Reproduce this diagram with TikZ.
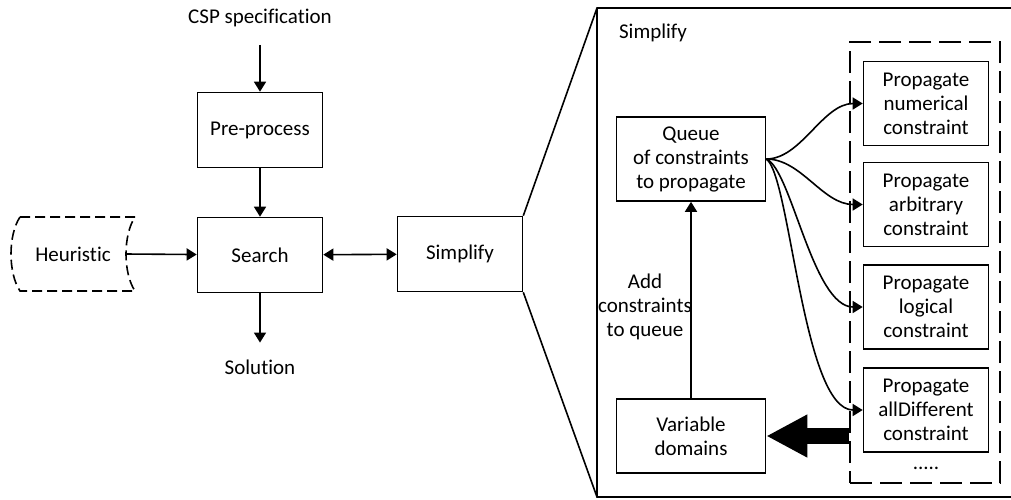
\documentclass[tikz,border=0pt]{standalone}
\usepackage{fontspec}
\setmainfont{Carlito}[RawFeature={-liga}]
\usetikzlibrary{arrows.meta}
\tikzset{
  box/.style={draw,line width=0.8pt,minimum width=62.5pt,minimum height=37.5pt,align=center,inner sep=2pt},
  propbox/.style={box,minimum height=42pt},
  widebox/.style={box,minimum width=74.5pt},
  dashbox/.style={draw,line width=0.8pt,dash pattern=on 11pt off 4pt,minimum width=75pt,minimum height=220.5pt},
  arr/.style={-{Triangle[length=5pt,width=6pt]},line width=0.8pt},
  bigarr/.style={-{Triangle[length=20.5pt,width=20pt]},line width=8pt}
}
\begin{document}
\begin{tikzpicture}[x=0.5pt,y=-0.5pt,font=\fontsize{10.5}{12}\selectfont]
\useasboundingbox (0,0) rectangle (1011,499);
\node (csp) at (260,18) {CSP specification};
\node[box] (pre) at (260,130) {Pre-process};
\node[box] (search) at (260,255) {Search};
\node (sol) at (260,367) {Solution};
\node[box] (simp) at (460,254) {Simplify};
\node (heur) at (73,254) {Heuristic};
\coordinate (heurE) at (126,254);
\draw[line width=0.8pt,dash pattern=on 5pt off 2.5pt] (20,217) -- (135,217)
  .. controls (123,235) and (123,273) .. (135,291) -- (20,291)
  .. controls (8,273) and (8,235) .. (20,217) -- cycle;
\draw[arr,shorten <=5.5pt] (csp) -- (pre);
\draw[arr] (pre) -- (search);
\draw[arr,shorten >=5pt] (search) -- (sol);
\draw[arr] (heurE) -- (search);
\draw[{Triangle[length=5pt,width=6pt]}-{Triangle[length=5pt,width=6pt]},line width=0.8pt] (search) -- (simp);
% zoomed view of Simplify
\draw[line width=0.8pt] (simp.north east) -- (597,8) -- (1015,8);
\draw[line width=0.8pt] (simp.south east) -- (597,497) -- (1015,497);
\draw[line width=0.8pt] (597,8) -- (597,497);
\node[anchor=west] (simptitle) at (612,33) {Simplify};
\node[box,widebox,minimum height=42pt] (queue) at (691,159) {Queue\\of constraints\\to propagate};
\node[box,widebox,minimum height=37pt] (vardom) at (691,436) {Variable\\domains};
\node[dashbox] (group) at (925,262.5) {};
\node[propbox] (p1) at (926,103.5) {Propagate\\numerical\\constraint};
\node[propbox] (p2) at (926,204.5) {Propagate\\arbitrary\\constraint};
\node[propbox] (p3) at (926,307) {Propagate\\logical\\constraint};
\node[propbox] (p4) at (926,410) {Propagate\\allDifferent\\constraint};
\node (dots) at (926,468) {.....};
\node[align=center] (addlbl) at (645,307) {Add\\constraints\\to queue};
\draw[arr] (vardom) -- (queue);
\draw[arr] (queue.east) .. controls +(35,0) and +(-40,0) .. (p1.west);
\draw[arr] (queue.east) .. controls +(35,0) and +(-40,0) .. (p2.west);
\draw[arr] (queue.east) .. controls +(25,10) and +(-50,0) .. (p3.west);
\draw[arr] (queue.east) .. controls +(24,16) and +(-60,0) .. (p4.west);
\draw[bigarr] (group.west |- vardom.east) -- (vardom.east);
\end{tikzpicture}
\end{document}
